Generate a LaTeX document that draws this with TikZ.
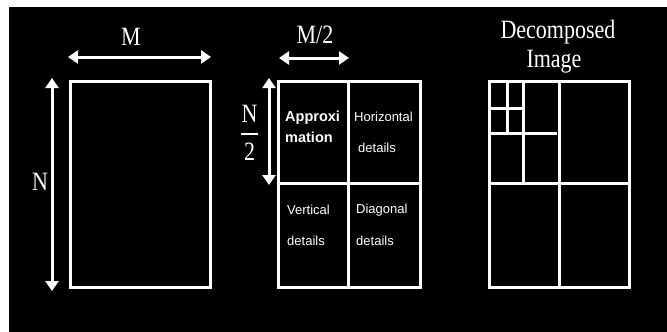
\documentclass[tikz,border=0pt]{standalone}
\usepackage{fontspec}
\setmainfont{Liberation Serif}
\setsansfont{Liberation Sans}
\usetikzlibrary{arrows.meta}
\newcommand{\tallt}[1]{\scalebox{1}[1.2]{#1}}
\begin{document}
\begin{tikzpicture}[x=1pt,y=-1pt,
  frame/.style={draw=white,line width=3pt},
  dim/.style={draw=white,line width=3pt,
    {Triangle[length=10pt,width=13pt]}-{Triangle[length=10pt,width=13pt]}},
  serif/.style={text=white,font=\fontsize{22}{22}\selectfont,inner sep=0pt},
  cell/.style={text=white,font=\sffamily\fontsize{13}{13}\selectfont,anchor=west,inner sep=0pt},
  boldcell/.style={cell,font=\sffamily\bfseries\fontsize{14.5}{14.5}\selectfont}]
\useasboundingbox (0,0) rectangle (667,332);
\fill[white] (0,0) rectangle (667,332);
\fill[black] (9,7) rectangle (667,332);

% ---- original image M x N ----
\coordinate (oTL) at (70,81);
\coordinate (oBR) at (210,287);
\draw[frame] (oTL) rectangle (oBR);
\coordinate (mL) at (68,57);
\coordinate (mR) at (211,57);
\draw[dim] (mL) -- (mR);
\node[serif] (mlab) at (131,37) {\tallt{M}};
\coordinate (nT) at (52,78);
\coordinate (nB) at (52,291);
\draw[dim] (nT) -- (nB);
\node[serif] (nlab) at (40,182) {\tallt{N}};

% ---- one-level decomposition ----
\coordinate (sTL) at (278,81);
\coordinate (sBR) at (420,287);
\draw[frame] (sTL) rectangle (sBR);
\draw[frame] (348,81) -- (348,287);
\draw[frame] (278,183) -- (420,183);
\coordinate (hL) at (279,58);
\coordinate (hR) at (349,58);
\draw[dim] (hL) -- (hR);
\node[serif] (mhlab) at (315,35) {\tallt{M/2}};
\coordinate (vT) at (269,78);
\coordinate (vB) at (269,185);
\draw[dim] (vT) -- (vB);
\node[serif] (nnum) at (249.5,114) {\tallt{N}};
\node[serif] (nden) at (249.5,152) {\tallt{2}};
\draw[white,line width=2.2pt] (241,134) -- (258,134);

\node[boldcell] (ap1) at (285,118) {Approxi};
\node[boldcell] (ap2) at (285,137) {mation};
\node[cell] (ho1) at (354,117) {Horizontal};
\node[cell] (ho2) at (358,148) {details};
\node[cell] (ve1) at (287,210) {Vertical};
\node[cell] (ve2) at (287,241) {details};
\node[cell] (di1) at (356,210) {Diagonal};
\node[cell] (di2) at (356,241) {details};

% ---- three-level decomposition ----
\coordinate (dTL) at (489,81);
\coordinate (dBR) at (629,287);
\draw[frame] (dTL) rectangle (dBR);
\draw[frame] (559,81) -- (559,287);
\draw[frame] (489,183) -- (629,183);
\draw[frame] (523,81) -- (523,183);
\draw[frame] (489,133) -- (557,133);
\draw[frame] (507,81) -- (507,135);
\draw[frame] (489,108) -- (523,108);
\node[serif] (dec1) at (558,32) {\tallt{Decomposed}};
\node[serif] (dec2) at (554,62) {\tallt{Image}};
\end{tikzpicture}
\end{document}
